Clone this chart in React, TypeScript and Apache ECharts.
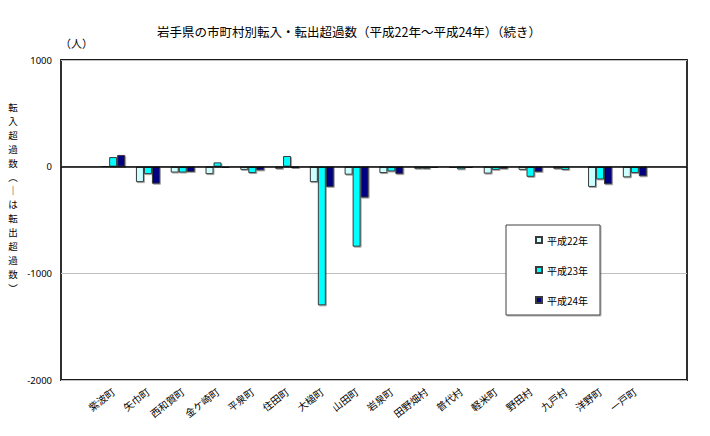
import React, { useEffect, useRef } from "react";
import * as echarts from "echarts";

const categories = [
  "紫波町", "矢巾町", "西和賀町", "金ケ崎町", "平泉町", "住田町", "大槌町", "山田町",
  "岩泉町", "田野畑村", "普代村", "軽米町", "野田村", "九戸村", "洋野町", "一戸町",
];
const seriesNames = ["平成22年", "平成23年", "平成24年"];
const h22 = [10, -145, -55, -70, -30, -20, -145, -75, -60, -20, -10, -65, -30, -20, -190, -100];
const h23 = [90, -70, -55, 40, -60, 100, -1300, -750, -45, -20, -25, -30, -95, -30, -120, -60];
const h24 = [110, -160, -50, -10, -35, -15, -190, -290, -70, -10, -10, -20, -50, -5, -165, -90];
const yTicks = { min: -2000, max: 1000, interval: 1000 };
const colors = ["#CCFFFF", "#00FFFF", "#000080"];
const title = "岩手県の市町村別転入・転出超過数（平成22年～平成24年）（続き）";
const unit = "（人）";
const yName = ["転", "入", "超", "過", "数", "︵", "｜", "は", "転", "出", "超", "過", "数", "︶"];

const FONT = "'Noto Sans CJK JP', 'Noto Sans', sans-serif";

export default function App() {
  const ref = useRef<HTMLDivElement>(null);
  useEffect(() => {
    if (!ref.current) return;
    const chart = echarts.init(ref.current, undefined, { renderer: "svg" });
    const cats = ["", ...categories, ""];
    const pad = (arr: number[]) => [null, ...arr, null];
    const all = [h22, h23, h24];
    chart.setOption({
      animation: false,
      backgroundColor: "#fff",
      textStyle: { fontFamily: FONT },
      title: {
        text: title,
        left: 344,
        textAlign: "center",
        top: 20,
        textStyle: { fontSize: 12.5, fontWeight: "normal", color: "#000", fontFamily: FONT },
      },
      grid: {
        left: 61, right: 23, top: 60, bottom: 56,
        show: true, borderColor: "#1a1a1a", borderWidth: 1.8, backgroundColor: "#fff",
      },
      legend: {
        orient: "vertical",
        left: 535,
        top: 235,
        padding: 0,
        itemWidth: 6,
        itemHeight: 6,
        itemGap: 20,
        icon: "rect",
        data: seriesNames,
        textStyle: { fontSize: 10, lineHeight: 10, color: "#000", fontFamily: FONT },
      },
      xAxis: {
        type: "category",
        data: cats,
        axisLine: { show: false, onZero: false },
        axisTick: { show: false },
        axisLabel: {
          interval: 0, rotate: 38, fontSize: 10, color: "#000", margin: 10, fontFamily: FONT,
        },
      },
      yAxis: {
        type: "value",
        min: yTicks.min,
        max: yTicks.max,
        interval: yTicks.interval,
        axisLine: { show: false },
        axisTick: { show: false },
        axisLabel: {
          fontSize: 9.5, color: "#000", margin: 9, fontFamily: "'Noto Sans', sans-serif",
          formatter: (v: number) => String(v),
        },
        splitLine: { show: true, lineStyle: { color: "#c0c0c0", width: 1 } },
      },
      series: all.map((d, i) => ({
        name: seriesNames[i],
        type: "bar",
        data: pad(d),
        barWidth: 8,
        barGap: "0%",
        itemStyle: {
          color: colors[i],
          borderColor: "#3a3a3a",
          borderWidth: 1,
          shadowColor: "rgba(0,0,0,0.35)",
          shadowOffsetX: 1,
          shadowOffsetY: 1,
          shadowBlur: 0,
        },
        markLine: i === 0 ? {
          silent: true,
          symbol: "none",
          label: { show: false },
          lineStyle: { color: "#000", width: 1.5, type: "solid" },
          data: [{ yAxis: 0 }],
          z: 10,
        } : undefined,
      })),
      graphic: [
        {
          type: "rect",
          shape: { x: 506, y: 225, width: 94, height: 90 },
          style: { fill: "#fff", stroke: "#404040", lineWidth: 1, shadowColor: "rgba(0,0,0,0.3)", shadowOffsetX: 1, shadowOffsetY: 1 },
          z: 1,
        },
        {
          type: "text",
          x: 60,
          y: 37,
          style: { text: unit, fontSize: 11, fill: "#000", fontFamily: FONT },
        },
        ...yName.map((ch, k) => ({
          type: "text",
          x: 13,
          y: 107 + k * 13.9,
          style: {
            text: ch,
            fontSize: 9.5,
            fill: "#000",
            align: "center",
            verticalAlign: "middle",
            fontFamily: FONT,
          },
        })),
      ],
    });
    return () => chart.dispose();
  }, []);
  return <div ref={ref} style={{ width: 710, height: 436, margin: -8 }} />;
}
